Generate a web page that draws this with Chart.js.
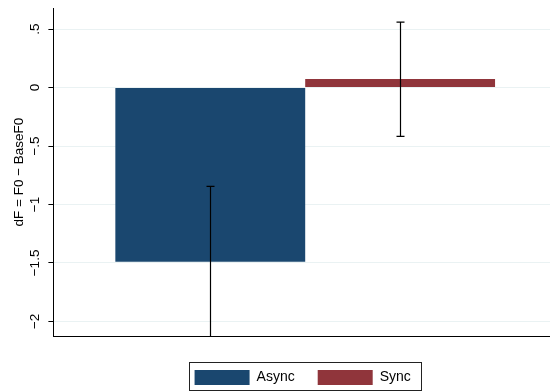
<!DOCTYPE html>
<html>
<head>
<meta charset="utf-8">
<script src="https://cdn.jsdelivr.net/npm/chart.js@4"></script>
<style>
  html, body { margin: 0; padding: 0; background: #fff; overflow: hidden; }
  #wrap { width: 550px; height: 391px; overflow: hidden; }
</style>
</head>
<body>
<!-- canvas a little wider than the window: the plot region runs to the right edge, as in Stata -->
<div id="wrap"><canvas id="chart" width="557" height="391"></canvas></div>
<script>
// values
const groups = ['Async', 'Sync']
const means = [-1.49, 0.074]
const ciLow = [-2.13, -0.418]
const ciHigh = [-0.845, 0.56]
const yTicks = [-2, -1.5, -1, -0.5, 0, 0.5]
const yTickLabels = ['−2', '−1.5', '−1', '−.5', '0', '.5']
const colors = ['#1a476f', '#90353b']

Chart.defaults.font.family = '"Liberation Sans", Arial, Helvetica, sans-serif'
Chart.defaults.color = '#000'

// error bars (CI) on top of each bar
const errorBars = {
  id: 'errorBars',
  afterDatasetsDraw(chart) {
    const ctx = chart.ctx
    const y = chart.scales.y
    const area = chart.chartArea
    ctx.save()
    ctx.beginPath()
    ctx.rect(area.left, area.top - 1, area.right - area.left, area.bottom - area.top + 1)
    ctx.clip()
    ctx.strokeStyle = '#000'
    ctx.lineWidth = 1.2
    groups.forEach((g, i) => {
      const bar = chart.getDatasetMeta(i).data[0]
      const x = Math.round(bar.x) + 0.5
      const top = y.getPixelForValue(ciHigh[i])
      const bot = y.getPixelForValue(ciLow[i])
      ctx.beginPath()
      ctx.moveTo(x, top)
      ctx.lineTo(x, bot)
      ctx.moveTo(x - 4, top)
      ctx.lineTo(x + 4, top)
      ctx.moveTo(x - 4, bot)
      ctx.lineTo(x + 4, bot)
      ctx.stroke()
    })
    ctx.restore()
  }
}

// Stata centres the legend under the plot region, not the whole canvas
const legendUnderPlot = {
  id: 'legendUnderPlot',
  afterLayout(chart) {
    const lg = chart.legend
    const area = chart.chartArea
    const oldMid = (lg.left + lg.right) / 2
    lg.left = area.left
    lg.right = area.right - 5
    lg.width = lg.right - lg.left
    const shift = (lg.left + lg.right) / 2 - oldMid
    lg.legendHitBoxes.forEach((b) => {
      b.left += shift
    })
  },
  // box round the legend
  afterDraw(chart) {
    const boxes = chart.legend.legendHitBoxes
    if (!boxes || !boxes.length) return
    const left = Math.min(...boxes.map((b) => b.left)) - 6
    const right = Math.max(...boxes.map((b) => b.left + b.width)) + 10
    const top = Math.min(...boxes.map((b) => b.top)) - 8
    const bottom = Math.max(...boxes.map((b) => b.top + b.height)) + 5
    const ctx = chart.ctx
    ctx.save()
    ctx.strokeStyle = '#222'
    ctx.lineWidth = 1
    ctx.strokeRect(Math.round(left) + 0.5, Math.round(top) + 0.5, Math.round(right - left), Math.round(bottom - top))
    ctx.restore()
  }
}

new Chart(document.getElementById('chart'), {
  type: 'bar',
  data: {
    labels: [''],
    datasets: groups.map((g, i) => ({
      label: g,
      data: [means[i]],
      backgroundColor: colors[i],
      borderWidth: 0,
      barPercentage: 1,
      categoryPercentage: 0.754,
    })),
  },
  options: {
    responsive: false,
    animation: false,
    layout: {
      padding: { top: 6, right: 0, bottom: -4, left: 0 },
    },
    plugins: {
      tooltip: { enabled: false },
      legend: {
        position: 'bottom',
        labels: {
          boxWidth: 55,
          boxHeight: 15,
          padding: 23,
          font: { size: 14 },
          color: '#000',
        },
      },
    },
    scales: {
      x: {
        grid: { display: false },
        ticks: { display: false },
        border: { color: '#000', width: 1 },
        afterFit: (s) => {
          s.height = 11
        },
      },
      y: {
        min: -2.125,
        max: 0.68,
        afterBuildTicks: (s) => {
          s.ticks = yTicks.map((v) => ({ value: v }))
        },
        ticks: {
          callback: (v) => yTickLabels[yTicks.indexOf(v)],
          minRotation: 90,
          maxRotation: 90,
          crossAlign: 'center',
          font: { size: 13.5 },
          color: '#000',
          padding: 0,
        },
        grid: {
          color: '#eaf2f3',
          tickColor: '#000',
          tickLength: 5,
        },
        border: { color: '#000', width: 1 },
        title: {
          display: true,
          text: 'dF = F0 − BaseF0',
          font: { size: 13.5 },
          color: '#000',
          padding: { top: 11, bottom: 5 },
        },
      },
    },
  },
  plugins: [errorBars, legendUnderPlot],
})
</script>
</body>
</html>
